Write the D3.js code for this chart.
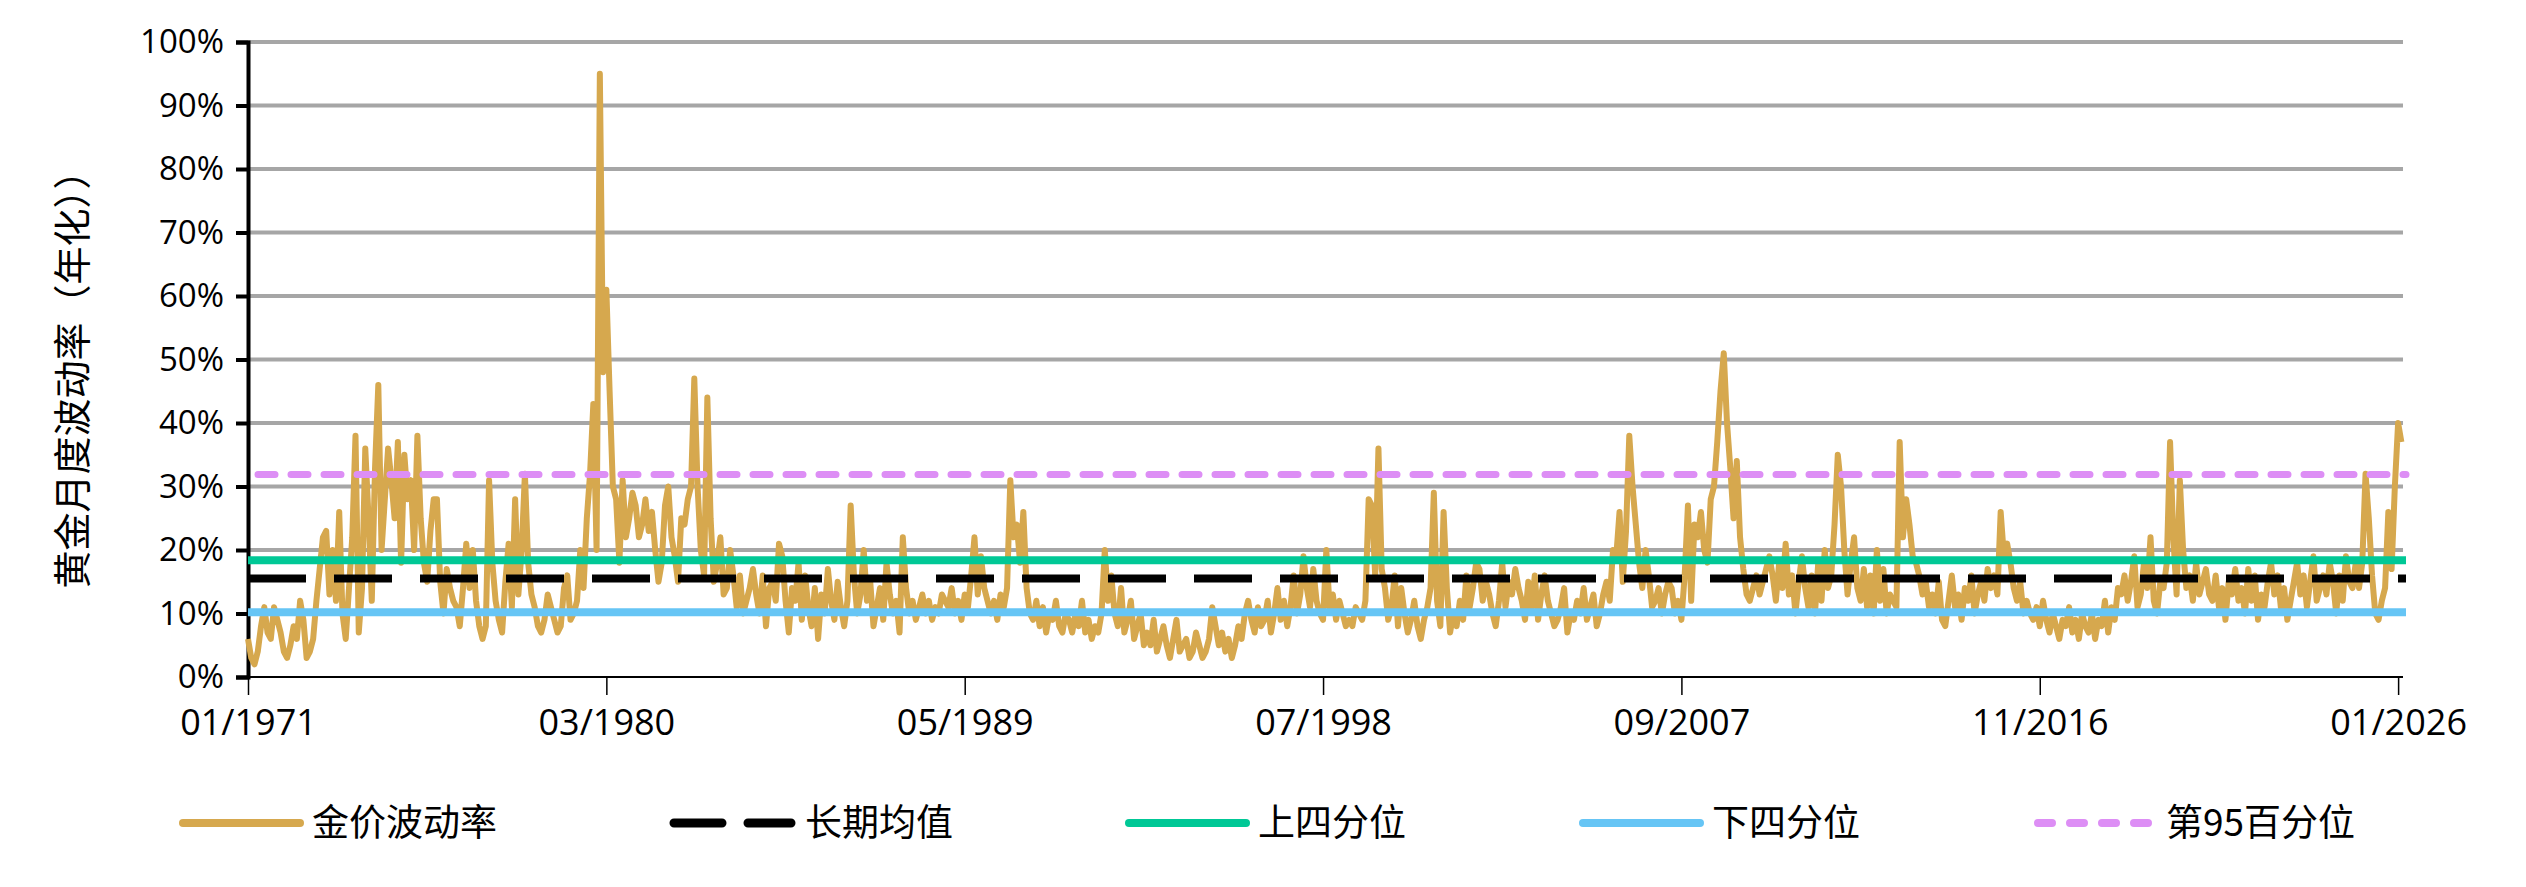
<!DOCTYPE html>
<html><head><meta charset="utf-8">
<script src="https://cdn.jsdelivr.net/npm/d3@7"></script>
<style>body{margin:0;background:#fff}</style></head>
<body><svg id="c" width="2526" height="887"></svg>
<script>
const startYear = 1971;
const vol = [
6,3,2,4,8,11,7,6,11,9,7,4,
3,5,8,6,12,9,3,4,6,12,17,22,
23,13,20,12,26,10,6,14,22,38,7,14,
36,25,12,33,46,20,28,36,31,25,37,18,
35,28,31,20,38,25,18,15,23,28,28,15,
10,17,14,12,11,8,14,21,14,20,12,8,
6,8,31,18,12,9,7,15,21,11,28,13,
20,32,18,13,11,8,7,9,13,11,9,7,
8,14,16,9,10,12,20,14,25,32,43,20,
95,48,61,45,30,28,18,31,22,25,29,27,
22,24,28,23,26,20,15,18,27,30,22,19,
15,25,24,28,30,47,30,20,16,44,25,15,
18,22,13,14,20,16,11,16,10,12,14,17,
13,10,16,8,14,15,12,21,19,12,7,14,
12,18,9,16,11,8,14,6,13,10,17,12,
9,15,11,8,12,27,16,10,13,20,12,15,
8,11,14,9,18,13,10,12,7,22,14,10,
12,9,11,13,10,12,9,11,10,13,12,11,
14,10,12,9,13,11,16,22,13,19,14,12,
10,12,9,13,11,14,31,22,24,18,26,14,
10,9,12,8,11,7,10,9,12,8,7,10,
9,7,10,8,12,7,9,6,8,7,10,20,
12,16,10,8,14,7,9,12,6,8,10,5,
7,5,9,4,6,8,5,3,6,9,4,5,
6,3,4,7,5,3,4,6,11,8,5,7,
4,6,3,5,8,6,10,12,9,7,11,8,
9,12,7,10,14,9,12,8,11,16,10,13,
19,14,11,17,12,10,9,20,11,13,9,12,
10,8,9,8,11,10,9,12,28,27,16,36,
17,14,9,11,16,8,14,10,7,9,12,8,
6,9,11,14,29,12,8,26,14,7,10,8,
12,9,16,11,14,18,17,12,15,13,10,8,
12,18,11,15,13,17,14,12,9,15,11,16,
9,13,16,12,10,8,9,11,14,7,10,9,
12,10,14,9,11,13,8,10,13,15,12,20,
19,26,15,23,38,30,24,18,14,20,16,11,
12,14,10,13,15,14,10,12,9,16,27,12,
24,22,26,20,18,28,30,37,45,51,40,33,
25,34,22,17,13,12,14,16,13,15,17,19,
16,12,18,14,21,13,16,10,15,19,14,11,
16,10,18,12,20,14,16,24,35,30,20,13,
18,22,14,12,17,11,16,10,20,12,17,10,
13,12,11,37,22,28,24,19,18,16,13,15,
11,13,10,15,9,8,12,16,11,13,9,14,
12,16,10,13,15,12,17,14,16,13,26,19,
21,18,14,12,15,10,12,10,9,11,8,12,
9,7,10,8,6,9,8,11,7,9,6,10,
8,7,10,6,9,8,12,7,11,9,14,13,
16,12,15,19,11,13,18,14,22,12,10,15,
14,18,37,22,13,31,20,14,16,12,18,13,
15,17,13,12,16,11,14,9,15,13,17,12,
14,10,17,12,16,9,13,11,15,18,13,16,
11,14,9,12,15,18,13,16,11,15,19,12,
14,16,13,18,15,10,16,12,19,15,14,18,
14,18,32,25,16,10,9,12,14,26,17,30,
40,37
];
const meanVal = 15.5, upperQ = 18.4, lowerQ = 10.2, p95 = 31.9;
const xTickLabels = ["01/1971","03/1980","05/1989","07/1998","09/2007","11/2016","01/2026"];
const yTicks = [0,10,20,30,40,50,60,70,80,90,100];
const legendNames = ["金价波动率","长期均值","上四分位","下四分位","第95百分位"];

const svg = d3.select("#c");
const L=248, R=2403, T=42, B=677;
const x = d3.scaleLinear().domain([0,661.5]).range([L,R]);
const y = d3.scaleLinear().domain([0,100]).range([B,T]);
const font = "'Open Sans','Noto Sans CJK SC',sans-serif";

svg.append("g").selectAll("line").data(yTicks.slice(1)).join("line")
 .attr("x1",L).attr("x2",R).attr("y1",d=>y(d)).attr("y2",d=>y(d))
 .attr("stroke","#a6a6a6").attr("stroke-width",4);

const yAx = svg.append("g").attr("transform",`translate(${L},0)`)
 .call(d3.axisLeft(y).tickValues(yTicks).tickSize(12).tickPadding(12).tickFormat(d=>d+"%"));
yAx.select(".domain").attr("stroke","#000").attr("stroke-width",4);
yAx.selectAll(".tick line").attr("stroke","#000").attr("stroke-width",4);
yAx.selectAll("text").attr("font-family",font).attr("font-size",33).attr("fill","#000");

const xTickVals = xTickLabels.map((s,i)=>i*110);
const xAx = svg.append("g").attr("transform",`translate(0,${B})`)
 .call(d3.axisBottom(x).tickValues(xTickVals).tickSize(18).tickPadding(14).tickFormat((d,i)=>xTickLabels[i]));
xAx.select(".domain").attr("stroke","#000").attr("stroke-width",2).attr("d",`M${L},0H${R}`);
xAx.selectAll(".tick line").attr("stroke","#000").attr("stroke-width",1.5);
xAx.selectAll("text").attr("font-family",font).attr("font-size",36).attr("fill","#000");

const refs = [
 {v:lowerQ,c:"#66c5f5",w:8,dash:null},
 {v:upperQ,c:"#00c896",w:8,dash:null},
 {v:meanVal,c:"#000",w:8,dash:"58,28"},
];
const line = d3.line().x((d,i)=>x(i)).y(d=>y(d));
svg.append("path").datum(vol).attr("d",line).attr("fill","none")
 .attr("stroke","#d6a84e").attr("stroke-width",6).attr("stroke-linejoin","round");
refs.forEach(r=>{
 svg.append("line").attr("x1",L).attr("x2",R+3).attr("y1",y(r.v)).attr("y2",y(r.v))
  .attr("stroke",r.c).attr("stroke-width",r.w).attr("stroke-dasharray",r.dash);
});
svg.append("line").attr("x1",L+10).attr("x2",R+3).attr("y1",y(p95)).attr("y2",y(p95))
 .attr("stroke","#dd8ef5").attr("stroke-width",7).attr("stroke-dasharray","17,16").attr("stroke-linecap","round");

svg.append("text").attr("transform","translate(86,370) rotate(-90)").attr("text-anchor","middle")
 .attr("font-family","'Noto Sans CJK SC',sans-serif").attr("font-size",38).text("黄金月度波动率（年化））");

const leg = [
 {x1:183,x2:300,c:"#d6a84e",w:8,dash:null,tx:312},
 {x1:674,x2:791,c:"#000",w:9,dash:"48,26",tx:805},
 {x1:1129,x2:1246,c:"#00c896",w:8,dash:null,tx:1258},
 {x1:1583,x2:1700,c:"#66c5f5",w:8,dash:null,tx:1712},
 {x1:2038,x2:2153,c:"#dd8ef5",w:8,dash:"14,18",tx:2166},
];
leg.forEach((l,i)=>{
 svg.append("line").attr("x1",l.x1).attr("x2",l.x2).attr("y1",823).attr("y2",823)
  .attr("stroke",l.c).attr("stroke-width",l.w).attr("stroke-dasharray",l.dash).attr("stroke-linecap","round");
 svg.append("text").attr("x",l.tx).attr("y",836).attr("font-family","'Noto Sans CJK SC',sans-serif")
  .attr("font-size",37).text(legendNames[i]);
});
</script></body></html>
